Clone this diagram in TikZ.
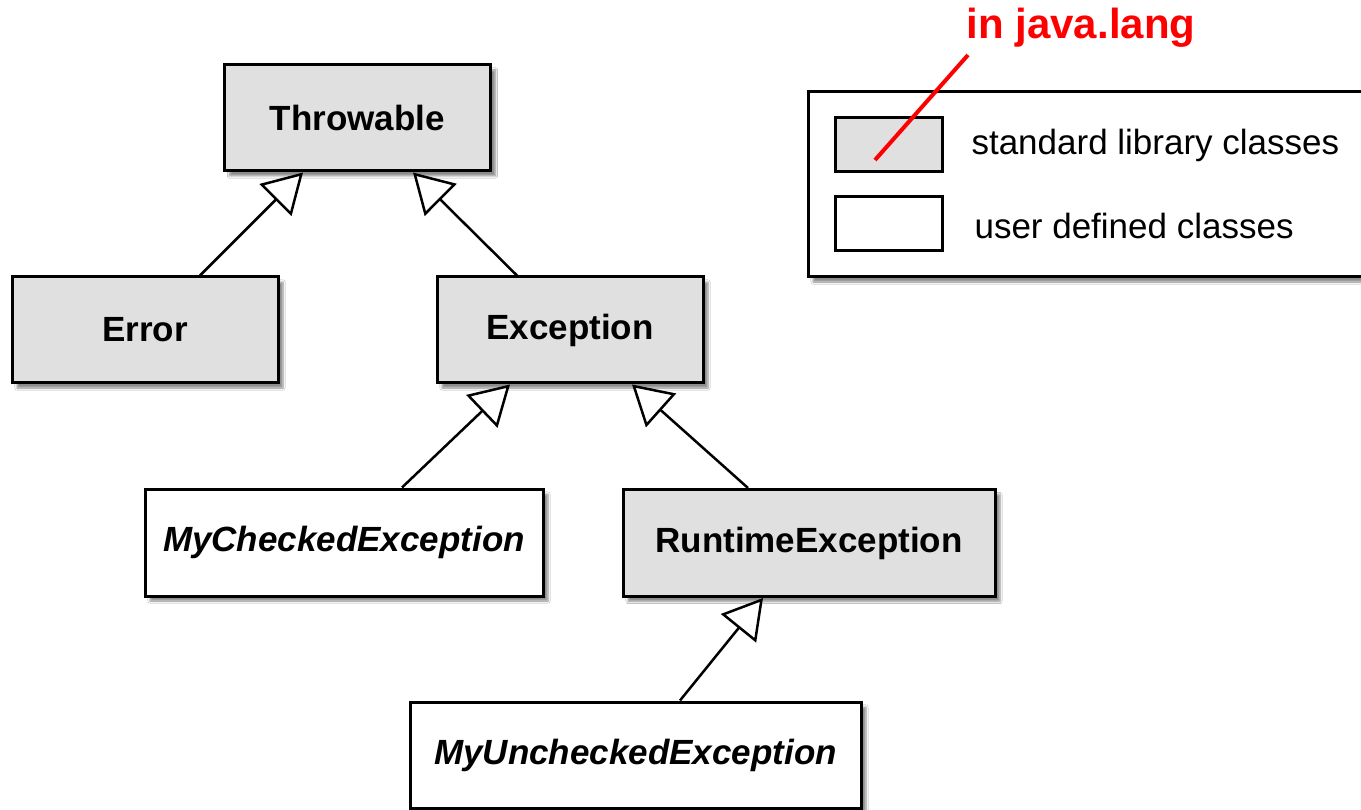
\documentclass[tikz,border=0pt]{standalone}
\usepackage{fontspec}
\setmainfont{Liberation Sans}
\usetikzlibrary{arrows.meta,shadows.blur}
\definecolor{boxgray}{RGB}{224,224,224}
\definecolor{javared}{RGB}{255,0,0}
\tikzset{
  cls/.style={draw=black, line width=3pt, rectangle, inner sep=0pt,
    font=\fontsize{35}{40}\selectfont\bfseries,
    blur shadow={shadow xshift=5pt, shadow yshift=-5pt, shadow blur steps=6, shadow opacity=45}},
  stdcls/.style={cls, fill=boxgray},
  usrcls/.style={cls, fill=white, font=\fontsize{35}{40}\selectfont\bfseries\itshape},
  inh/.style={line width=2.5pt, -{Triangle[length=39pt, width=45pt, fill=white, line width=2.5pt]}},
  legbox/.style={draw=black, line width=3pt, rectangle, inner sep=0pt, minimum width=107, minimum height=54},
  legtext/.style={anchor=west, font=\fontsize{35}{40}\selectfont},
}
\begin{document}
\begin{tikzpicture}[x=1pt, y=-1pt]
\useasboundingbox (0,0) rectangle (1361,810);
\fill[white] (0,0) rectangle (1361,810);

% class boxes
\node[stdcls, minimum width=266, minimum height=106] (throw) at (357.5,118) {Throwable};
\node[stdcls, minimum width=266, minimum height=106] (err) at (145,330) {Error};
\node[stdcls, minimum width=266, minimum height=106] (exc) at (570,330) {Exception};
\node[usrcls, minimum width=398, minimum height=107] (mce) at (344,542.5) {MyCheckedException};
\node[stdcls, minimum width=372, minimum height=107] (rte) at (809,543) {RuntimeException};
\node[usrcls, minimum width=451, minimum height=106] (mue) at (635.5,755) {MyUncheckedException};

% x positions of connector ends
\coordinate (xa) at (200,0);
\coordinate (xb) at (303,0);
\coordinate (xc) at (517,0);
\coordinate (xd) at (413,0);
\coordinate (xe) at (402,0);
\coordinate (xf) at (510,0);
\coordinate (xg) at (748,0);
\coordinate (xh) at (632,0);
\coordinate (xi) at (680,0);
\coordinate (xj) at (763,0);

\draw[inh] (xa |- err.north) -- (xb |- throw.south);
\draw[inh] (xc |- exc.north) -- (xd |- throw.south);
\draw[inh] (xe |- mce.north) -- (xf |- exc.south);
\draw[inh] (xg |- rte.north) -- (xh |- exc.south);
\draw[inh] (xi |- mue.north) -- (xj |- rte.south);

% legend
\node[draw=black, line width=3pt, fill=white, rectangle, inner sep=0pt,
  minimum width=570, minimum height=185,
  blur shadow={shadow xshift=5pt, shadow yshift=-5pt, shadow blur steps=6, shadow opacity=45}]
  (legend) at (1093,184.5) {};
\node[legbox, fill=boxgray] (legstd) at (888.5,145) {};
\node[legbox, fill=white] (legusr) at (888.5,224) {};
\node[legtext] (legstdt) at (968,145) {standard library classes};
\node[legtext] (legusrt) at (971,226) {user defined classes};

% annotation
\node[font=\fontsize{42}{48}\selectfont\bfseries, text=javared, anchor=base] (jl) at (1081,39) {in java.lang};
\coordinate (jlstart) at (968,55);
\coordinate (jlend) at (875,160);
\draw[javared, line width=4pt] (jlstart) -- (jlend);
\end{tikzpicture}
\end{document}
